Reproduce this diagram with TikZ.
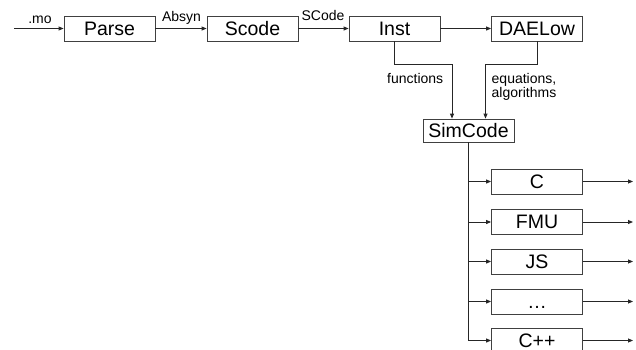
\documentclass[tikz,border=0pt]{standalone}
\usepackage{fontspec}
\setmainfont{Liberation Sans}
\usetikzlibrary{arrows.meta}
\begin{document}
\begin{tikzpicture}[x=1pt,y=-1pt,
  stage/.style={draw=black!75, line width=0.8pt, minimum width=91pt, minimum height=25pt,
    inner sep=0pt, text height=13.5pt, text depth=0pt, font=\fontsize{19.5}{19.5}\selectfont},
  flow/.style={draw=black!85, line width=0.9pt, -{Triangle[length=5pt,width=4pt]}},
  tag/.style={font=\fontsize{14}{14.5}\selectfont, inner sep=0pt, anchor=base, align=left}]
\useasboundingbox (0,0) rectangle (636,349);

% compiler front end
\node[stage] (parse) at (109.5,28.5) {Parse};
\node[stage] (scode) at (252.5,28.5) {Scode};
\node[stage] (inst) at (394.5,28.5) {Inst};
\node[stage] (dae) at (537,28.5) {DAELow};
\node[stage, minimum height=23pt] (sim) at (468.5,130.5) {SimCode};

% code generation targets
\node[stage] (c) at (537,181.5) {C};
\node[stage] (fmu) at (537,222) {FMU};
\node[stage] (js) at (537,261.5) {JS};
\node[stage] (more) at (537,301.5) {…};
\node[stage] (cpp) at (537,340.5) {C++};

\coordinate (in) at (14,28.5);
\draw[flow] (in) -- (parse);
\draw[flow] (parse) -- (scode);
\draw[flow] (scode) -- (inst);
\draw[flow] (inst) -- (dae);

\node[tag] at (40,23) {.mo};
\node[tag] at (181.5,21) {Absyn};
\node[tag] at (323,20.5) {SCode};

% flows into SimCode
\draw[flow] (inst.south) -- ++(0,23) -| ([xshift=-16.5pt]sim.north);
\draw[flow] (dae.south) -- ++(0,23) -| ([xshift=17pt]sim.north);
\node[tag, anchor=base west] at (387,83) {functions};
\node[tag, anchor=north west] at (491.5,73) {equations,\\algorithms};

% fan-out to the targets
\coordinate (trunk) at (468.5,142);
\draw[draw=black!85, line width=0.9pt] (sim.south) -- (trunk |- cpp);
\foreach \t in {c,fmu,js,more,cpp}{
  \draw[flow] (trunk |- \t) -- (\t.west);
  \coordinate (out-\t) at (633,0 |- \t);
  \draw[flow] (\t.east) -- (out-\t);
}
\end{tikzpicture}
\end{document}
